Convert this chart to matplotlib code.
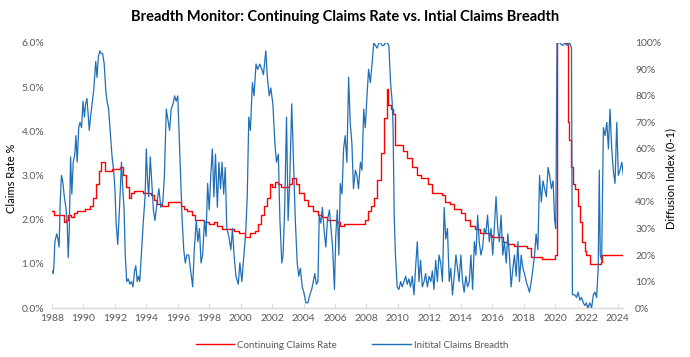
import matplotlib
matplotlib.use("Agg")
import matplotlib.pyplot as plt
from matplotlib.ticker import FuncFormatter
from matplotlib.lines import Line2D

plt.rcParams['font.family'] = ['Lato', 'DejaVu Sans']

# Continuing Claims Rate (%), step series
red_years = [1988.00, 1988.10, 1988.70, 1988.75, 1988.90, 1989.00, 1989.20, 1989.40, 1989.60, 1989.90,
             1990.10, 1990.40, 1990.60, 1990.80, 1991.00, 1991.10, 1991.35, 1991.80, 1992.00, 1992.30,
             1992.50, 1992.70, 1992.90, 1993.00, 1993.20, 1993.80, 1994.00, 1994.30, 1994.50, 1994.70,
             1995.00, 1995.40, 1996.00, 1996.20, 1996.40, 1996.60, 1996.90, 1997.10, 1997.70, 1998.00,
             1998.30, 1998.50, 1998.80, 1999.60, 1999.90, 2000.30, 2000.60, 2000.90, 2001.10, 2001.30,
             2001.50, 2001.70, 2001.90, 2002.00, 2002.20, 2002.40, 2002.60, 2003.10, 2003.30, 2003.50,
             2003.70, 2004.00, 2004.30, 2004.60, 2004.90, 2005.20, 2005.50, 2006.10, 2006.30, 2006.60,
             2007.90, 2008.10, 2008.30, 2008.50, 2008.70, 2008.90, 2009.10, 2009.30, 2009.40, 2009.55,
             2009.70, 2009.80, 2010.00, 2010.30, 2010.60, 2010.90, 2011.20, 2011.50, 2011.90, 2012.20,
             2012.80, 2013.00, 2013.30, 2013.60, 2014.00, 2014.30, 2014.60, 2014.90, 2015.20, 2015.80,
             2016.00, 2016.70, 2017.00, 2017.40, 2018.20, 2018.50, 2018.90, 2019.20, 2020.00, 2020.12,
             2020.40, 2020.60, 2020.73, 2020.80, 2020.90, 2021.00, 2021.15, 2021.30, 2021.45, 2021.60,
             2021.75, 2021.90, 2022.00, 2022.20, 2022.90, 2023.00, 2024.35]
red_vals = [2.20, 2.10, 2.10, 1.95, 2.00, 2.10, 2.05, 2.15, 2.20, 2.20,
            2.25, 2.30, 2.50, 2.80, 3.10, 3.30, 3.10, 3.15, 3.15, 3.20,
            3.00, 2.75, 2.50, 2.60, 2.65, 2.60, 2.60, 2.55, 2.45, 2.35,
            2.30, 2.40, 2.40, 2.30, 2.25, 2.20, 2.10, 2.00, 1.95, 1.90,
            1.95, 1.85, 1.80, 1.75, 1.70, 1.60, 1.70, 1.75, 1.90, 2.10,
            2.30, 2.50, 2.80, 2.75, 2.85, 2.80, 2.75, 2.80, 2.95, 2.80,
            2.60, 2.45, 2.30, 2.20, 2.10, 2.05, 2.00, 1.95, 1.85, 1.90,
            2.00, 2.20, 2.30, 2.50, 2.90, 3.50, 4.30, 4.95, 4.60, 4.50,
            4.40, 3.70, 3.70, 3.55, 3.40, 3.20, 3.00, 2.95, 2.80, 2.60,
            2.55, 2.40, 2.35, 2.25, 2.15, 2.00, 1.85, 1.80, 1.70, 1.65,
            1.60, 1.50, 1.45, 1.40, 1.35, 1.15, 1.15, 1.10, 1.20, 9.00,
            14.00, 10.00, 6.00, 4.20, 3.80, 3.20, 2.80, 2.70, 2.30, 1.95,
            1.50, 1.30, 1.20, 1.00, 1.05, 1.20, 1.20]

# Initial Claims Breadth (diffusion index, 0-1)
blue_years = [1988.00, 1988.08, 1988.12, 1988.18, 1988.30, 1988.38, 1988.45, 1988.52, 1988.60, 1988.68,
              1988.78, 1988.88, 1988.96, 1989.03, 1989.10, 1989.18, 1989.26, 1989.35, 1989.45, 1989.52,
              1989.60, 1989.70, 1989.78, 1989.88, 1989.97, 1990.06, 1990.14, 1990.22, 1990.30, 1990.37,
              1990.45, 1990.55, 1990.65, 1990.78, 1990.86, 1990.95, 1991.05, 1991.12, 1991.22, 1991.32,
              1991.42, 1991.50, 1991.60, 1991.72, 1991.82, 1991.92, 1992.00, 1992.08, 1992.18, 1992.28,
              1992.42, 1992.50, 1992.58, 1992.66, 1992.75, 1992.85, 1992.95, 1993.05, 1993.15, 1993.25,
              1993.33, 1993.42, 1993.50, 1993.58, 1993.68, 1993.80, 1993.92, 1994.00, 1994.08, 1994.15,
              1994.25, 1994.35, 1994.45, 1994.55, 1994.68, 1994.80, 1994.92, 1995.05, 1995.15, 1995.27,
              1995.35, 1995.48, 1995.58, 1995.70, 1995.80, 1995.90, 1996.00, 1996.08, 1996.18, 1996.28,
              1996.38, 1996.48, 1996.58, 1996.70, 1996.80, 1996.95, 1997.05, 1997.18, 1997.28, 1997.38,
              1997.48, 1997.58, 1997.70, 1997.80, 1997.90, 1998.00, 1998.10, 1998.20, 1998.30, 1998.40,
              1998.52, 1998.62, 1998.72, 1998.82, 1998.92, 1999.02, 1999.12, 1999.25, 1999.38, 1999.48,
              1999.58, 1999.70, 1999.85, 1999.95, 2000.08, 2000.18, 2000.32, 2000.42, 2000.52, 2000.62,
              2000.75, 2000.85, 2000.98, 2001.08, 2001.22, 2001.35, 2001.45, 2001.52, 2001.60, 2001.70,
              2001.82, 2001.92, 2002.05, 2002.18, 2002.28, 2002.40, 2002.50, 2002.62, 2002.70, 2002.80,
              2002.92, 2003.02, 2003.12, 2003.25, 2003.35, 2003.48, 2003.60, 2003.70, 2003.80, 2003.92,
              2004.02, 2004.15, 2004.28, 2004.40, 2004.52, 2004.62, 2004.72, 2004.82, 2004.92, 2005.00,
              2005.10, 2005.20, 2005.30, 2005.42, 2005.52, 2005.65, 2005.75, 2005.85, 2005.97, 2006.05,
              2006.15, 2006.25, 2006.34, 2006.45, 2006.55, 2006.65, 2006.76, 2006.87, 2006.97, 2007.08,
              2007.18, 2007.30, 2007.40, 2007.50, 2007.62, 2007.72, 2007.83, 2007.93, 2008.04, 2008.14,
              2008.25, 2008.36, 2008.47, 2008.58, 2008.68, 2008.80, 2008.90, 2009.00, 2009.10, 2009.22,
              2009.32, 2009.43, 2009.54, 2009.64, 2009.70, 2009.77, 2009.85, 2009.96, 2010.07, 2010.18,
              2010.28, 2010.39, 2010.50, 2010.60, 2010.70, 2010.81, 2010.92, 2011.03, 2011.13, 2011.24,
              2011.35, 2011.45, 2011.56, 2011.67, 2011.77, 2011.88, 2011.99, 2012.10, 2012.20, 2012.30,
              2012.41, 2012.52, 2012.62, 2012.73, 2012.84, 2012.95, 2013.05, 2013.16, 2013.27, 2013.37,
              2013.48, 2013.59, 2013.70, 2013.80, 2013.90, 2014.01, 2014.12, 2014.22, 2014.33, 2014.44,
              2014.55, 2014.65, 2014.76, 2014.87, 2014.97, 2015.08, 2015.18, 2015.29, 2015.40, 2015.50,
              2015.60, 2015.71, 2015.82, 2015.93, 2016.04, 2016.14, 2016.25, 2016.36, 2016.46, 2016.57,
              2016.68, 2016.78, 2016.90, 2017.00, 2017.10, 2017.21, 2017.32, 2017.42, 2017.53, 2017.64,
              2017.74, 2017.85, 2017.96, 2018.06, 2018.17, 2018.28, 2018.38, 2018.49, 2018.60, 2018.70,
              2018.80, 2018.91, 2019.02, 2019.13, 2019.24, 2019.34, 2019.45, 2019.56, 2019.66, 2019.77,
              2019.88, 2019.98, 2020.05, 2020.13, 2020.30, 2020.50, 2020.62, 2020.75, 2020.94, 2021.05,
              2021.11, 2021.26, 2021.37, 2021.47, 2021.58, 2021.69, 2021.80, 2021.90, 2022.00, 2022.10,
              2022.22, 2022.33, 2022.44, 2022.54, 2022.65, 2022.75, 2022.82, 2022.88, 2022.97, 2023.08,
              2023.19, 2023.30, 2023.40, 2023.50, 2023.61, 2023.71, 2023.82, 2023.93, 2024.03, 2024.14,
              2024.25, 2024.35]
blue_vals = [0.14, 0.13, 0.16, 0.25, 0.28, 0.26, 0.23, 0.40, 0.50, 0.48,
             0.42, 0.38, 0.33, 0.19, 0.30, 0.57, 0.43, 0.55, 0.58, 0.65,
             0.55, 0.68, 0.70, 0.68, 0.78, 0.72, 0.77, 0.79, 0.73, 0.67,
             0.72, 0.77, 0.82, 0.93, 0.87, 0.95, 0.97, 0.96, 0.96, 0.92,
             0.82, 0.78, 0.75, 0.65, 0.57, 0.52, 0.45, 0.32, 0.24, 0.36,
             0.55, 0.45, 0.38, 0.20, 0.10, 0.11, 0.09, 0.10, 0.08, 0.14,
             0.16, 0.10, 0.12, 0.10, 0.20, 0.32, 0.42, 0.60, 0.48, 0.42,
             0.57, 0.47, 0.37, 0.33, 0.40, 0.45, 0.38, 0.40, 0.50, 0.75,
             0.72, 0.67, 0.75, 0.77, 0.80, 0.78, 0.80, 0.67, 0.50, 0.33,
             0.22, 0.17, 0.20, 0.20, 0.15, 0.08, 0.22, 0.33, 0.25, 0.30,
             0.17, 0.20, 0.33, 0.27, 0.47, 0.37, 0.50, 0.60, 0.42, 0.58,
             0.38, 0.55, 0.45, 0.55, 0.43, 0.53, 0.30, 0.27, 0.22, 0.30,
             0.20, 0.12, 0.09, 0.17, 0.10, 0.18, 0.28, 0.42, 0.72, 0.67,
             0.85, 0.80, 0.92, 0.90, 0.92, 0.90, 0.88, 0.92, 0.97, 0.87,
             0.80, 0.83, 0.77, 0.62, 0.55, 0.58, 0.33, 0.17, 0.20, 0.37,
             0.72, 0.33, 0.47, 0.77, 0.58, 0.33, 0.17, 0.12, 0.15, 0.08,
             0.06, 0.02, 0.02, 0.05, 0.07, 0.10, 0.13, 0.09, 0.10, 0.35,
             0.32, 0.38, 0.30, 0.23, 0.33, 0.37, 0.30, 0.23, 0.07, 0.27,
             0.37, 0.20, 0.47, 0.43, 0.60, 0.65, 0.55, 0.87, 0.70, 0.62,
             0.45, 0.52, 0.50, 0.45, 0.55, 0.52, 0.75, 0.68, 0.80, 0.90,
             0.85, 0.92, 1.00, 0.99, 0.98, 1.00, 1.00, 0.99, 0.99, 1.00,
             1.00, 0.99, 0.85, 0.78, 0.68, 0.35, 0.20, 0.08, 0.07, 0.10,
             0.08, 0.10, 0.12, 0.09, 0.11, 0.08, 0.12, 0.05, 0.15, 0.25,
             0.10, 0.18, 0.08, 0.10, 0.13, 0.08, 0.12, 0.10, 0.14, 0.07,
             0.18, 0.10, 0.20, 0.17, 0.10, 0.38, 0.26, 0.30, 0.10, 0.15,
             0.05, 0.12, 0.20, 0.15, 0.10, 0.20, 0.10, 0.06, 0.12, 0.08,
             0.10, 0.20, 0.07, 0.25, 0.20, 0.35, 0.25, 0.20, 0.23, 0.30,
             0.28, 0.35, 0.25, 0.30, 0.20, 0.30, 0.42, 0.30, 0.25, 0.35,
             0.20, 0.25, 0.17, 0.28, 0.20, 0.08, 0.15, 0.20, 0.12, 0.25,
             0.10, 0.20, 0.15, 0.13, 0.10, 0.08, 0.06, 0.10, 0.15, 0.20,
             0.28, 0.22, 0.50, 0.40, 0.48, 0.45, 0.42, 0.53, 0.50, 0.45,
             0.48, 0.33, 0.30, 1.00, 1.00, 0.99, 1.00, 0.99, 1.00, 0.98,
             0.05, 0.05, 0.04, 0.06, 0.03, 0.04, 0.02, 0.01, 0.02, 0.00,
             0.02, 0.00, 0.05, 0.06, 0.04, 0.15, 0.52, 0.20, 0.18, 0.68,
             0.65, 0.70, 0.60, 0.75, 0.60, 0.52, 0.47, 0.70, 0.50, 0.52,
             0.55, 0.50]

year_ticks = list(range(1988, 2025, 2))
left_ticks = [0, 1, 2, 3, 4, 5, 6]
right_ticks = [0, 0.1, 0.2, 0.3, 0.4, 0.5, 0.6, 0.7, 0.8, 0.9, 1.0]

RED = '#FF0000'
BLUE = '#1F6FB8'
GRAY = '#595959'

fig = plt.figure(figsize=(6.9, 3.57), dpi=100)
ax = fig.add_axes([0.0754, 0.137, 0.828, 0.743])
ax2 = ax.twinx()

ax.plot(red_years, red_vals, color=RED, lw=1.0, drawstyle='steps-post')
ax2.plot(blue_years, blue_vals, color=BLUE, lw=0.9)

ax.set_xlim(1988, 2024.35)
ax.set_ylim(0, 6)
ax2.set_ylim(0, 1)

ax.set_xticks(year_ticks)
ax.set_xticklabels([str(y) for y in year_ticks])
ax.set_yticks(left_ticks)
ax.yaxis.set_major_formatter(FuncFormatter(lambda v, p: f"{v:.1f}%"))
ax2.set_yticks(right_ticks)
ax2.yaxis.set_major_formatter(FuncFormatter(lambda v, p: f"{v*100:.0f}%"))

for a in (ax, ax2):
    for s in ('top', 'left', 'right', 'bottom'):
        a.spines[s].set_visible(False)
ax.spines['bottom'].set_visible(True)
ax.spines['bottom'].set_color('#D9D9D9')
ax.spines['bottom'].set_linewidth(1.0)

ax.tick_params(axis='x', direction='in', length=3, color='#D9D9D9', labelsize=7.5, labelcolor=GRAY, pad=4)
ax.tick_params(axis='y', length=0, labelsize=7.5, labelcolor=GRAY, pad=5.5)
ax2.tick_params(axis='y', length=0, labelsize=7.5, labelcolor=GRAY, pad=8.5)

ax.set_ylabel('Claims Rate %', fontsize=8, color='black')
ax2.set_ylabel('Diffusion Index (0-1)', fontsize=8, color='black', rotation=90)
# place axis titles at their pixel positions (fig coords -> axes coords)
ax.yaxis.set_label_coords(12 / 690, 0.5, transform=fig.transFigure)
ax2.yaxis.set_label_coords(671 / 690, 0.5, transform=fig.transFigure)
ax.yaxis.label.set_va('center')
ax2.yaxis.label.set_va('center')

fig.suptitle('Breadth Monitor: Continuing Claims Rate vs. Intial Claims Breadth',
             fontsize=10.5, fontweight='bold', y=0.972)

handles = [Line2D([], [], color=RED, lw=1.0), Line2D([], [], color=BLUE, lw=1.0)]
fig.legend(handles, ['Continuing Claims Rate', 'Initital Claims Breadth'],
           loc='center', bbox_to_anchor=(0.51, 0.033), ncol=2, frameon=False,
           fontsize=7, handlelength=4.0, columnspacing=3.6, handletextpad=0.3,
           labelcolor=GRAY)

fig.savefig('out.png', dpi=100)
